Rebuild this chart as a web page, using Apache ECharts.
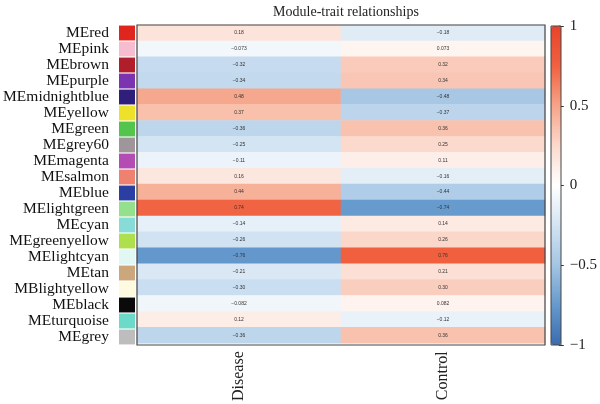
<!DOCTYPE html>
<html>
<head>
<meta charset="utf-8">
<script src="https://cdn.jsdelivr.net/npm/echarts@6/dist/echarts.min.js"></script>
<style>
  html, body { margin: 0; padding: 0; background: #fff; }
  #chart { width: 600px; height: 404px; }
</style>
</head>
<body>
<div id="chart"></div>
<script>
// module eigengenes (top to bottom)
const modules = ['MEred', 'MEpink', 'MEbrown', 'MEpurple', 'MEmidnightblue', 'MEyellow', 'MEgreen',
  'MEgrey60', 'MEmagenta', 'MEsalmon', 'MEblue', 'MElightgreen', 'MEcyan', 'MEgreenyellow',
  'MElightcyan', 'MEtan', 'MBlightyellow', 'MEblack', 'MEturquoise', 'MEgrey']
const swatchColors = ['#e0251f', '#f6bdd0', '#b01e2c', '#7b33b0', '#2f1f7a', '#ede12a', '#54c54c',
  '#9f969c', '#b44db3', '#ef8170', '#2b3fa3', '#94e08c', '#87dcd8', '#ade04c',
  '#e0f7f4', '#cba77b', '#fefae0', '#0a0a0a', '#6bdac8', '#bdbdbd']
const traits = ['Disease', 'Control']
const disease = [0.18, -0.073, -0.32, -0.34, 0.48, 0.37, -0.36, -0.25, -0.11, 0.16,
  0.44, 0.74, -0.14, -0.26, -0.76, -0.21, -0.30, -0.082, 0.12, -0.36]
const control = [-0.18, 0.073, 0.32, 0.34, -0.48, -0.37, 0.36, 0.25, 0.11, -0.16,
  -0.44, -0.74, 0.14, 0.26, 0.76, 0.21, 0.30, 0.082, -0.12, 0.36]

const serif = '"Liberation Serif", "DejaVu Serif", serif'
const chart = echarts.init(document.getElementById('chart'))

// heatmap cells [x, y, value]
const cells = []
modules.forEach((m, i) => {
  cells.push([0, i, disease[i]])
  cells.push([1, i, control[i]])
})

const minus = s => String(s).replace('-', '−')
// two significant digits, like the original labels
const cellText = v => minus(Math.abs(v) < 0.1 ? v.toFixed(3) : v.toFixed(2))

const option = {
  animation: false,
  title: {
    text: 'Module-trait relationships',
    left: 341,
    textAlign: 'center',
    top: 0,
    textStyle: { fontFamily: serif, fontSize: 14, fontWeight: 'normal', color: '#222' }
  },
  grid: [
    // heatmap
    { left: 137, top: 25, width: 408, height: 320 },
    // color swatches
    { left: 119, top: 25, width: 16, height: 320 },
    // colour bar scale
    { left: 551, top: 26, width: 10, height: 319 }
  ],
  xAxis: [
    {
      gridIndex: 0, type: 'category', data: traits,
      axisLine: { show: false }, axisTick: { show: false },
      axisLabel: { rotate: 90, fontFamily: serif, fontSize: 16, color: '#222', margin: 8 }
    },
    { gridIndex: 1, type: 'value', min: 0, max: 1, show: false },
    { gridIndex: 2, type: 'value', min: 0, max: 1, show: false }
  ],
  yAxis: [
    {
      gridIndex: 0, type: 'category', data: modules, inverse: true,
      axisLine: { show: false }, axisTick: { show: false }, axisLabel: { show: false }
    },
    {
      gridIndex: 1, type: 'category', data: modules, inverse: true,
      axisLine: { show: false }, axisTick: { show: false },
      axisLabel: { interval: 0, fontFamily: serif, fontSize: 15.5, color: '#111', margin: 10 }
    },
    {
      gridIndex: 2, type: 'value', min: -1, max: 1, interval: 0.5, position: 'right',
      splitLine: { show: false },
      axisLine: { show: true, onZero: false, lineStyle: { color: '#444', width: 1 } },
      axisTick: { show: true, length: 5, lineStyle: { color: '#333' } },
      axisLabel: { fontFamily: serif, fontSize: 15, color: '#222', margin: 11, formatter: v => minus(v) }
    }
  ],
  visualMap: {
    type: 'continuous',
    seriesIndex: 0,
    min: -1,
    max: 1,
    calculable: false,
    left: 551,
    top: 26,
    padding: 0,
    itemWidth: 10,
    itemHeight: 319,
    text: null,
    inRange: {
      color: ['#3a6bb0', '#6699cc', '#a3c5e4', '#d3e4f3', '#ffffff',
        '#fbd9cd', '#f6a489', '#f06140', '#e8432a']
    }
  },
  series: [
    {
      type: 'heatmap',
      xAxisIndex: 0,
      yAxisIndex: 0,
      data: cells,
      label: {
        show: true,
        fontSize: 5,
        color: '#333',
        formatter: p => cellText(p.value[2])
      }
    },
    {
      type: 'bar',
      xAxisIndex: 1,
      yAxisIndex: 1,
      barWidth: '93%',
      silent: true,
      data: modules.map((m, i) => ({ value: 1, itemStyle: { color: swatchColors[i] } }))
    }
  ],
  graphic: [
    { type: 'rect', shape: { x: 137, y: 25, width: 408, height: 320 }, style: { fill: 'none', stroke: '#444', lineWidth: 1.2 }, z: 100 },
    { type: 'rect', shape: { x: 551, y: 26, width: 10, height: 319 }, style: { fill: 'none', stroke: '#444', lineWidth: 1 }, z: 100 }
  ]
}

chart.setOption(option)
</script>
</body>
</html>
